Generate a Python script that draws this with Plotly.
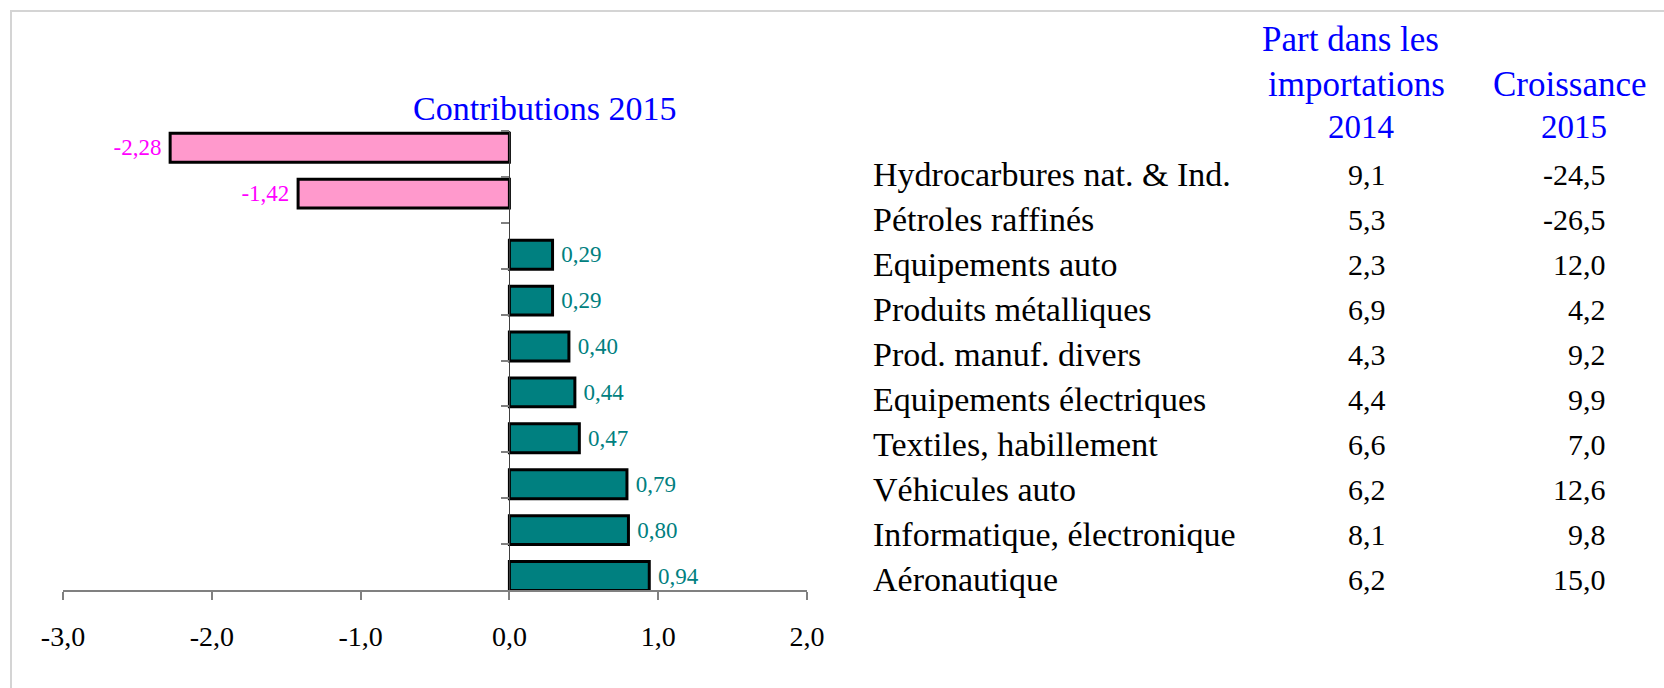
import plotly.graph_objects as go

# ---------------- data ----------------
categories = [
    "Hydrocarbures nat. & Ind.",
    "Pétroles raffinés",
    "Equipements auto",
    "Produits métalliques",
    "Prod. manuf. divers",
    "Equipements électriques",
    "Textiles, habillement",
    "Véhicules auto",
    "Informatique, électronique",
    "Aéronautique",
]
contrib_2015 = [-2.28, -1.42, 0.29, 0.29, 0.40, 0.44, 0.47, 0.79, 0.80, 0.94]
part_2014 = [9.1, 5.3, 2.3, 6.9, 4.3, 4.4, 6.6, 6.2, 8.1, 6.2]
croissance_2015 = [-24.5, -26.5, 12.0, 4.2, 9.2, 9.9, 7.0, 12.6, 9.8, 15.0]
x_ticks = [-3, -2, -1, 0, 1, 2]

chart_title = "Contributions 2015"
header_part = ["Part dans les", "importations", "2014"]
header_croiss = ["Croissance", "2015"]

# ---------------- layout helpers ----------------
W_FIG, H_FIG = 1664, 688
L, R, T, B = 63, 807, 131, 590
PW, PH = R - L, B - T


def px_x(px):
    return (px - L) / PW


def px_y(py):
    return (B - py) / PH


def fr(v, nd=1):
    return f"{v:.{nd}f}".replace(".", ",")


SERIF = "Liberation Serif, Times New Roman, serif"
BLUE = "#0000FF"
TEAL = "#008080"
PINK = "#FF99CC"
MAGENTA = "#FF00FF"

neg_cat = [c for c, v in zip(categories, contrib_2015) if v < 0]
neg_val = [v for v in contrib_2015 if v < 0]
pos_cat = [c for c, v in zip(categories, contrib_2015) if v >= 0]
pos_val = [v for v in contrib_2015 if v >= 0]

fig = go.Figure()

fig.add_trace(go.Bar(
    y=neg_cat, x=neg_val, orientation="h",
    marker=dict(color=PINK, line=dict(color="black", width=3)),
    width=0.63, offset=-0.45,
    text=[fr(v, 2) for v in neg_val],
    texttemplate="%{text} ", textposition="outside", constraintext="none",
    textfont=dict(family=SERIF, size=23, color=MAGENTA),
    cliponaxis=False, hoverinfo="skip", showlegend=False,
))
fig.add_trace(go.Bar(
    y=pos_cat, x=pos_val, orientation="h",
    marker=dict(color=TEAL, line=dict(color="black", width=3)),
    width=0.63, offset=-0.12,
    text=[fr(v, 2) for v in pos_val],
    texttemplate=" %{text}", textposition="outside", constraintext="none",
    textfont=dict(family=SERIF, size=23, color=TEAL),
    cliponaxis=False, hoverinfo="skip", showlegend=False,
))
# invisible trace registering the table's row axis
fig.add_trace(go.Scatter(
    x=[0] * len(categories), y=categories, yaxis="y2", mode="markers",
    marker=dict(opacity=0), hoverinfo="skip", showlegend=False,
))

annotations = []
annotations.append(dict(
    text=chart_title, xref="paper", yref="paper", x=px_x(545), y=px_y(108),
    xanchor="center", yanchor="middle", showarrow=False,
    font=dict(family=SERIF, size=34, color=BLUE),
))
for txt, cx, cy, anc, sz in [
    (header_part[0], 1350, 40, "center", 35),
    (header_part[1], 1356, 84, "center", 35),
    (header_part[2], 1396, 127, "right", 33),
    (header_croiss[0], 1570, 84, "center", 35),
    (header_croiss[1], 1609, 127, "right", 33),
]:
    annotations.append(dict(
        text=txt, xref="paper", yref="paper", x=px_x(cx), y=px_y(cy),
        xanchor=anc, yanchor="middle", showarrow=False,
        font=dict(family=SERIF, size=sz, color=BLUE),
    ))

for c, p, g in zip(categories, part_2014, croissance_2015):
    annotations.append(dict(
        text=c, xref="paper", yref="y2", x=px_x(871), y=c,
        xanchor="left", yanchor="middle", showarrow=False,
        font=dict(family=SERIF, size=34, color="black"),
    ))
    annotations.append(dict(
        text=fr(p), xref="paper", yref="y2", x=px_x(1388), y=c,
        xanchor="right", yanchor="middle", showarrow=False,
        font=dict(family=SERIF, size=30, color="black"),
    ))
    annotations.append(dict(
        text=fr(g), xref="paper", yref="y2", x=px_x(1608), y=c,
        xanchor="right", yanchor="middle", showarrow=False,
        font=dict(family=SERIF, size=30, color="black"),
    ))

shapes = [dict(
    type="rect", xref="paper", yref="paper",
    x0=px_x(11), x1=px_x(1720), y0=px_y(11), y1=px_y(740),
    line=dict(color="#D4D4D4", width=2), fillcolor="rgba(0,0,0,0)", layer="below",
)]

fig.update_layout(
    width=W_FIG, height=H_FIG, autosize=False,
    margin=dict(l=L, r=W_FIG - R, t=T, b=H_FIG - B, pad=0),
    paper_bgcolor="white", plot_bgcolor="rgba(0,0,0,0)",
    barmode="overlay",
    separators=", ",
    font=dict(family=SERIF, color="black"),
    annotations=annotations,
    shapes=shapes,
    xaxis=dict(
        range=[x_ticks[0], x_ticks[-1]], tickvals=x_ticks,
        ticktext=[fr(v) for v in x_ticks],
        showgrid=False, zeroline=False,
        showline=True, linecolor="#808080", linewidth=1.5,
        ticks="outside", ticklen=8, tickcolor="#808080", tickwidth=1.5,
        ticklabelstandoff=13,
        tickfont=dict(family=SERIF, size=28, color="black"),
        domain=[0, 1],
    ),
    yaxis=dict(
        type="category", categoryorder="array", categoryarray=categories,
        range=[len(categories) - 0.5, -0.5],
        anchor="free", position=px_x(509.4),
        showgrid=False, zeroline=False, showticklabels=False,
        showline=True, linecolor="#404040", linewidth=1,
        ticks="outside", tickson="boundaries", ticklen=8,
        tickcolor="#808080", tickwidth=1.5,
        domain=[0, 1],
    ),
    yaxis2=dict(
        type="category", categoryorder="array", categoryarray=categories,
        range=[9.235, -0.5], domain=[0, px_y(152.5)],
        anchor="x", visible=False, showgrid=False,
    ),
)

fig.write_html(
    "out.html",
    config={"displayModeBar": False},
    post_script="document.body.style.margin='0';",
)
